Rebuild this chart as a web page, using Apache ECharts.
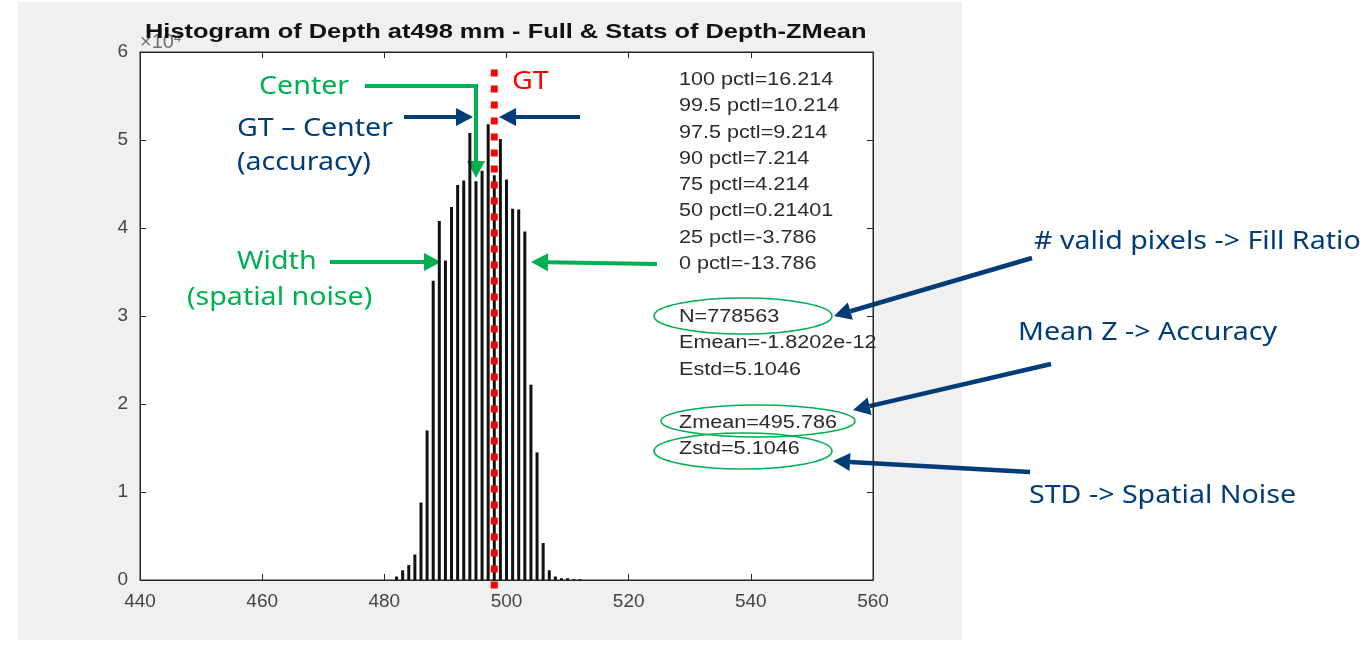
<!DOCTYPE html>
<html>
<head>
<meta charset="utf-8">
<script src="https://cdn.jsdelivr.net/npm/echarts@6/dist/echarts.min.js"></script>
<style>
  html, body { margin: 0; padding: 0; background: #fff; }
  #chart { width: 1371px; height: 647px; }
</style>
</head>
<body>
<div id="chart"></div>
<script>
(function() {
    'use strict';

    // depth bins (mm) and pixel counts per bin, in units of 1e4
    var depthBins = [482, 483, 484, 485, 486, 487, 488, 489, 490, 491, 492, 493, 494, 495, 496, 497,
                     498, 499, 500, 501, 502, 503, 504, 505, 506, 507, 508, 509, 510, 511, 512];
    var countsE4 = [0.04, 0.11, 0.17, 0.29, 0.88, 1.70, 3.40, 4.08, 3.63, 4.24, 4.49, 4.54, 5.08, 4.53, 4.65, 5.18,
                    4.60, 5.01, 4.55, 4.22, 4.21, 3.96, 2.22, 1.45, 0.42, 0.11, 0.04, 0.02, 0.02, 0.01, 0.01];
    var groundTruth = 498;
    var gtSpan = [5.8, -0.12];

    var xTicks = [440, 460, 480, 500, 520, 540, 560];
    var yTicks = [0, 1, 2, 3, 4, 5, 6];

    var statLines = ['100 pctl=16.214', '99.5 pctl=10.214', '97.5 pctl=9.214', '90 pctl=7.214',
                     '75 pctl=4.214', '50 pctl=0.21401', '25 pctl=-3.786', '0 pctl=-13.786'];
    var statLines2 = ['N=778563', 'Emean=-1.8202e-12', 'Estd=5.1046', '', 'Zmean=495.786', 'Zstd=5.1046'];

    var GREEN = '#00b050', NAVY = '#003c78', RED = '#ff0000';
    var MFONT = '"Liberation Sans", Arial, sans-serif';
    var AFONT = '"Noto Sans", "Open Sans", sans-serif';
    var ANNO = { font: '26px ' + AFONT, scaleX: 1.1 };

    var histData = depthBins.map(function(d, i) { return [d, countsE4[i]]; });

    // arrow = line + triangle head
    function arrow(x1, y1, x2, y2, color, w) {
        var dx = x2 - x1, dy = y2 - y1;
        var len = Math.sqrt(dx * dx + dy * dy);
        var ux = dx / len, uy = dy / len;
        var L = 17, H = 9;
        var bx = x2 - ux * L, by = y2 - uy * L;
        return {
            type: 'group', z: 50,
            children: [
                { type: 'line', shape: { x1: x1, y1: y1, x2: bx, y2: by },
                  style: { stroke: color, lineWidth: w } },
                { type: 'polygon',
                  shape: { points: [[x2, y2], [bx - uy * H, by + ux * H], [bx + uy * H, by - ux * H]] },
                  style: { fill: color } }
            ]
        };
    }

    function txt(x, y, text, color, opts) {
        return {
            type: 'text', x: x, y: y, z: 60,
            scaleX: opts.scaleX || 1,
            style: {
                text: text, fill: color, font: opts.font,
                textAlign: 'left', textVerticalAlign: 'middle'
            }
        };
    }

    function ellipse(cx, cy, rx, ry) {
        return { type: 'ellipse', z: 55, shape: { cx: cx, cy: cy, rx: rx, ry: ry },
                 style: { fill: null, stroke: GREEN, lineWidth: 1.6 } };
    }

    var statFont = { font: '18px ' + MFONT, scaleX: 1.2 };

    var graphics = [
        { type: 'rect', z: -10, shape: { x: 18, y: 2, width: 944, height: 638 }, style: { fill: '#f0f0f0' } },
        { type: 'text', x: 140, y: 42, z: 5,
          style: { text: '×10{s|4}', fill: '#707070', font: '20px ' + MFONT, textVerticalAlign: 'middle',
                   rich: { s: { fontSize: 13, verticalAlign: 'top', fill: '#707070' } } } },
        txt(145, 32, 'Histogram of Depth at498 mm - Full & Stats of Depth-ZMean', '#111',
            { font: 'bold 21px ' + MFONT, scaleX: 1.21 })
    ];

    statLines.forEach(function(s, i) {
        graphics.push(txt(679, 80 + i * 26.3, s, '#2b2b2b', statFont));
    });
    statLines2.forEach(function(s, i) {
        if (s) graphics.push(txt(679, 317 + i * 26.4, s, '#2b2b2b', statFont));
    });

    graphics = graphics.concat([
        ellipse(743, 316, 89, 18),
        ellipse(758, 421, 97, 16),
        ellipse(743, 451, 89, 18),

        txt(259, 87, 'Center', GREEN, ANNO),
        { type: 'polyline', z: 50, shape: { points: [[365, 86], [476, 86], [476, 162]] },
          style: { stroke: GREEN, lineWidth: 4, fill: null } },
        arrow(476, 150, 476, 178, GREEN, 4),
        txt(512, 82, 'GT', RED, ANNO),

        arrow(404, 117, 473, 117, NAVY, 4),
        arrow(580, 117, 499, 117, NAVY, 4),
        txt(237, 129, 'GT – Center', NAVY, ANNO),
        txt(237, 163, '(accuracy)', NAVY, ANNO),

        txt(237, 262, 'Width', GREEN, ANNO),
        txt(187, 298, '(spatial noise)', GREEN, ANNO),
        arrow(330, 262, 441, 262, GREEN, 4),
        arrow(657, 264, 531, 262, GREEN, 4),

        txt(1034, 242, '# valid pixels -> Fill Ratio', NAVY, ANNO),
        arrow(1032, 258, 834, 316, NAVY, 4.5),
        txt(1018, 333, 'Mean Z -> Accuracy', NAVY, ANNO),
        arrow(1051, 364, 853, 410, NAVY, 4.5),
        txt(1029, 496, 'STD -> Spatial Noise', NAVY, ANNO),
        arrow(1030, 472, 833, 461, NAVY, 4.5)
    ]);

    var axisColor = '#262626';
    var labelStyle = { color: '#444444', fontSize: 19, fontFamily: MFONT };

    var chart = echarts.init(document.getElementById('chart'));
    chart.setOption({
        animation: false,
        backgroundColor: '#ffffff',
        grid: { left: 140, top: 52, width: 733, height: 528, show: true,
                backgroundColor: '#ffffff', borderColor: axisColor, borderWidth: 1 },
        xAxis: [{
            type: 'value', min: xTicks[0], max: xTicks[xTicks.length - 1], interval: 20,
            axisLine: { onZero: false, lineStyle: { color: axisColor } },
            axisTick: { inside: true, length: 6, lineStyle: { color: axisColor } },
            axisLabel: Object.assign({ margin: 12, showMinLabel: true, showMaxLabel: true }, labelStyle),
            splitLine: { show: false }
        }, {
            type: 'value', position: 'top', min: xTicks[0], max: xTicks[xTicks.length - 1], interval: 20,
            axisLine: { onZero: false, lineStyle: { color: axisColor } },
            axisTick: { inside: true, length: 6, lineStyle: { color: axisColor } },
            axisLabel: { show: false }, splitLine: { show: false }
        }],
        yAxis: [{
            type: 'value', min: yTicks[0], max: yTicks[yTicks.length - 1], interval: 1,
            axisLine: { show: true, onZero: false, lineStyle: { color: axisColor } },
            axisTick: { show: true, inside: true, length: 6, lineStyle: { color: axisColor } },
            axisLabel: Object.assign({ margin: 12 }, labelStyle),
            splitLine: { show: false }
        }, {
            type: 'value', position: 'right', min: yTicks[0], max: yTicks[yTicks.length - 1], interval: 1,
            axisLine: { show: true, onZero: false, lineStyle: { color: axisColor } },
            axisTick: { show: true, inside: true, length: 6, lineStyle: { color: axisColor } },
            axisLabel: { show: false }, splitLine: { show: false }
        }],
        series: [{
            name: 'Depth histogram',
            type: 'bar',
            data: histData,
            barWidth: 3,
            itemStyle: { color: '#111111' },
            z: 2
        }, {
            name: 'GT',
            type: 'line',
            data: [[groundTruth, gtSpan[0]], [groundTruth, gtSpan[1]]],
            clip: false,
            symbol: 'none',
            lineStyle: { color: RED, width: 7, type: [7, 9], cap: 'butt' },
            z: 4
        }],
        graphic: graphics
    });
})();
</script>
</body>
</html>
